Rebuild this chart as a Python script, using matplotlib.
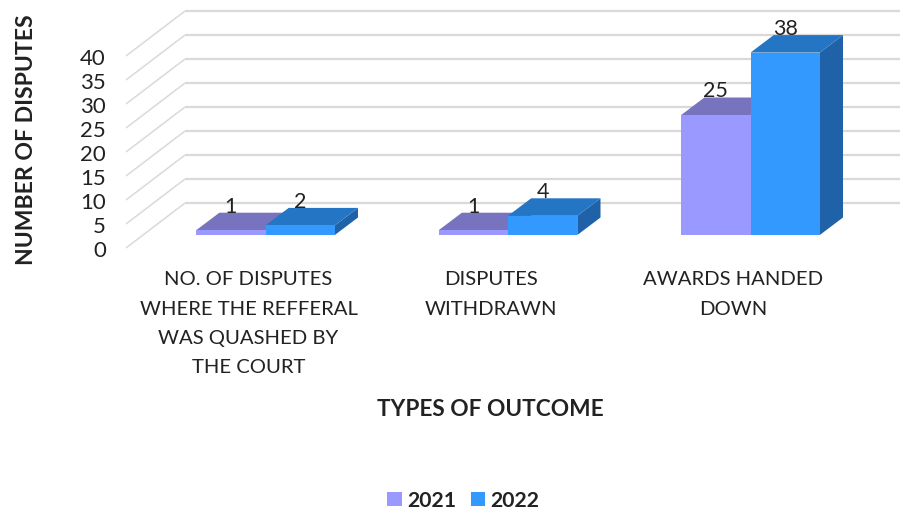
import matplotlib
matplotlib.use("Agg")
import matplotlib.pyplot as plt
from matplotlib.patches import Patch, Polygon

categories = ["NO. OF DISPUTES\nWHERE THE REFFERAL\nWAS QUASHED BY\nTHE COURT",
              "DISPUTES\nWITHDRAWN",
              "AWARDS HANDED\nDOWN"]
years = ["2021", "2022"]
values_2021 = [1, 1, 25]
values_2022 = [2, 4, 38]
y_ticks = [0, 5, 10, 15, 20, 25, 30, 35, 40]
x_title = "TYPES OF OUTCOME"
y_title = "NUMBER OF DISPUTES"

W, H = 900, 511
PX_X = 242.5          # pixels per category
PX_Y = 4.8            # pixels per value unit
X0, Y0 = 265.5, 235.0 # pixel of category 0 / value 0 (bar front plane)


def cx(px):
    return (px - X0) / PX_X


def vy(px):
    return (px) / PX_Y


plt.rcParams["font.family"] = ["Lato", "DejaVu Sans"]
fig = plt.figure(figsize=(W / 100, H / 100), dpi=100)
ax = fig.add_axes([0, 0, 1, 1])
ax.set_xlim(cx(0), cx(W))
ax.set_ylim(-(H - Y0) / PX_Y, Y0 / PX_Y)
ax.axis("off")

# floor / wall offsets relative to the bar plane
wall_front_x, wall_back_x = cx(126), cx(185)
wall_front_dv, wall_back_dv = vy(-13), vy(32)
grid_c = "#D9D9D9"
for t in y_ticks:
    ax.plot([wall_front_x, wall_back_x], [t + wall_front_dv, t + wall_back_dv],
            color=grid_c, lw=1.1, zorder=1, solid_capstyle="butt")
    ax.plot([wall_back_x, cx(W)], [t + wall_back_dv] * 2,
            color=grid_c, lw=1.6, zorder=1, solid_capstyle="butt")
    ax.annotate(str(t), (wall_front_x, t + wall_front_dv), xytext=(-14.5, -2),
                textcoords="offset points", ha="right", va="center",
                fontsize=16, color="#222222")

bar_w = 69.3 / PX_X
depth_x = 23.2 / PX_X
depth_v = 17.5 / PX_Y
styles = [
    ("#9999FF", "#7873BE", "#6A66AE"),
    ("#3399FF", "#2475C4", "#1F62A8"),
]


def draw_bar(left, v, cols, z):
    front, top, side = cols
    r = left + bar_w
    ax.add_patch(Polygon([(r, 0), (r + depth_x, depth_v), (r + depth_x, v + depth_v), (r, v)],
                         fc=side, ec="none", zorder=z))
    ax.add_patch(Polygon([(left, v), (left + depth_x, v + depth_v), (r + depth_x, v + depth_v), (r, v)],
                         fc=top, ec="none", zorder=z))
    ax.bar(left, v, width=bar_w, align="edge", color=front, zorder=z + 0.1)
    ax.annotate(str(v), (left + bar_w / 2, v), xytext=(0, 17), textcoords="offset points",
                ha="center", va="center", fontsize=15.5, color="#222222", zorder=10)


for i, (a, b) in enumerate(zip(values_2021, values_2022)):
    draw_bar(i - bar_w, a, styles[0], 3)
    draw_bar(i, b, styles[1], 4)

for i, c in enumerate(categories):
    ax.annotate(c, (i - 0.07, 0), xytext=(0, -26), textcoords="offset points",
                ha="center", va="top", fontsize=14.6, color="#222222", linespacing=1.89,
                annotation_clip=False)

fig.text(490.5 / W, 1 - 409 / H, x_title, ha="center", va="center",
         fontsize=16.3, fontweight="bold", color="#222222")
fig.text(27 / W, 1 - 139.5 / H, y_title, rotation=90, ha="center", va="center",
         fontsize=16.6, fontweight="bold", color="#222222")

handles = [Patch(fc=styles[0][0], ec="none"), Patch(fc=styles[1][0], ec="none")]
fig.legend(handles, years, loc="center", bbox_to_anchor=(463.5 / W, 1 - 500.5 / H), ncol=2,
           frameon=False, prop={"size": 15.2, "weight": "bold"}, labelcolor="#222222",
           handlelength=0.67, handleheight=0.67, handletextpad=0.25, columnspacing=0.72)

fig.savefig("out.png", dpi=100)
